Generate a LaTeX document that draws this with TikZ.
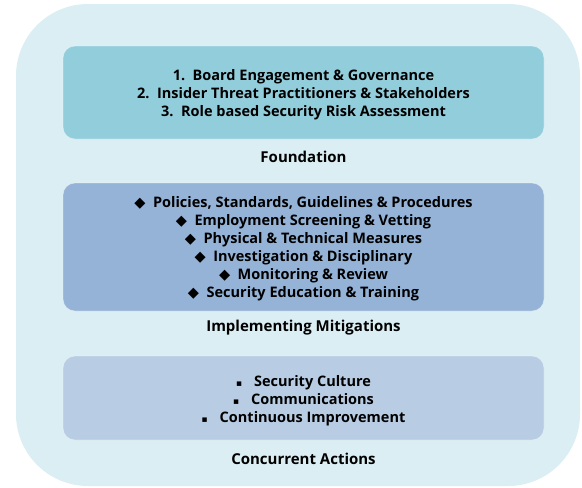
\documentclass[tikz,border=0pt]{standalone}
\usepackage{fontspec}
\setmainfont{Open Sans}
\newfontfamily\symfont{DejaVu Sans}
\usepackage{tikz}
\definecolor{outerblue}{HTML}{DAEEF3}
\definecolor{foundblue}{HTML}{92CDDC}
\definecolor{mitigblue}{HTML}{95B3D7}
\definecolor{concblue}{HTML}{B8CCE4}
\newcommand{\dia}{{\symfont\char"25C6}\ \ }
\newcommand{\sqb}{{\symfont\small\char"25AA}\hspace{12pt}}
\tikzset{
	panel/.style={rounded corners=12pt, draw=white, draw opacity=.35, line width=.8pt},
	listtext/.style={align=center, font=\fontsize{14.5}{18}\selectfont\bfseries},
	caption/.style={font=\fontsize{15}{16}\selectfont\bfseries}
}

\begin{document}
\begin{tikzpicture}[x=1pt,y=-1pt]
			\useasboundingbox (0,0) rectangle (582,488);
			\fill[outerblue, rounded corners=72pt] (16,4) rectangle (580,486);
			% the three layers
			\draw[panel, fill=foundblue] (63,46) rectangle (544,139);
			\draw[panel, fill=mitigblue] (63,183) rectangle (544,311);
			\draw[panel, fill=concblue] (63,356) rectangle (544,440);
			\node[listtext] (found) at (303.5,95) {1.\ \ Board Engagement \& Governance\\
				2.\ \ Insider Threat Practitioners \& Stakeholders\\
				3.\ \ Role based Security Risk Assessment};
			\node[listtext] (mitig) at (303.5,248.5) {\dia Policies, Standards, Guidelines \& Procedures\\
				\dia Employment Screening \& Vetting\\
				\dia Physical \& Technical Measures\\
				\dia Investigation \& Disciplinary\\
				\dia Monitoring \& Review\\
				\dia Security Education \& Training};
			\node[listtext] (conc) at (303.5,400.5) {\sqb Security Culture\\
				\sqb Communications\\
				\sqb Continuous Improvement};
			% layer names
			\node[caption] (foundname) at (303.5,157) {Foundation};
			\node[caption] (mitigname) at (303.5,328) {Implementing Mitigations};
			\node[caption] (concname) at (303.5,459) {Concurrent Actions};
		\end{tikzpicture}
\end{document}
